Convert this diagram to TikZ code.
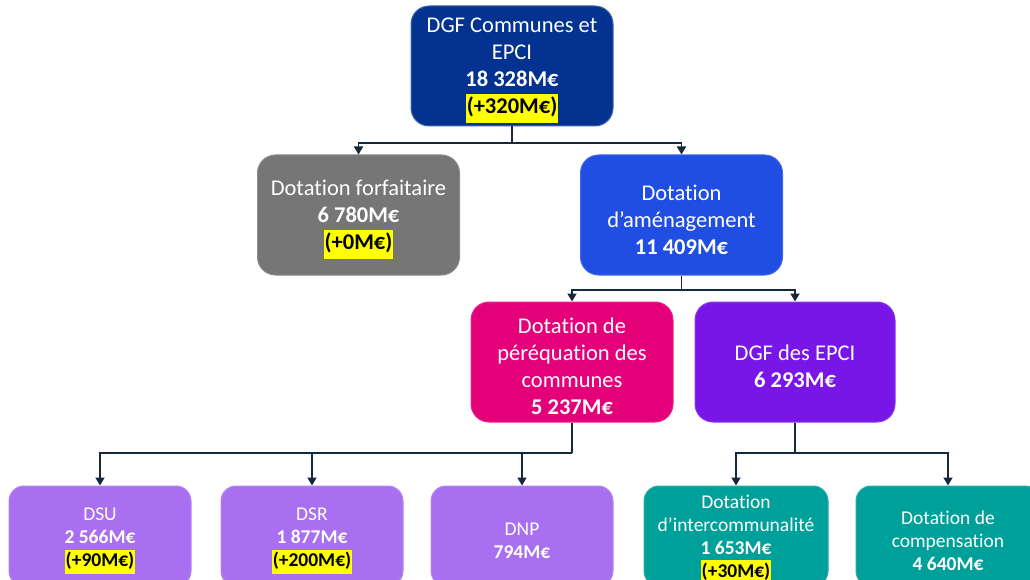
\documentclass[tikz,border=0pt]{standalone}
\usepackage{fontspec}
\setmainfont{Carlito}[Ligatures=NoCommon]
\usetikzlibrary{arrows.meta}
\definecolor{cTop}{RGB}{3,50,145}
\definecolor{cGray}{RGB}{118,118,118}
\definecolor{cBlue}{RGB}{33,78,226}
\definecolor{cPink}{RGB}{228,0,120}
\definecolor{cPurple}{RGB}{120,22,232}
\definecolor{cLav}{RGB}{168,112,240}
\definecolor{cTeal}{RGB}{0,160,154}
\definecolor{cLine}{RGB}{22,40,60}
\definecolor{hlYellow}{RGB}{255,255,0}
\newcommand\hlbox[1]{{\setlength{\fboxsep}{0.8pt}\colorbox{hlYellow}{\color{black}\strut #1}}}
\tikzset{
  bigbox/.style={rounded corners=18pt, minimum width=202pt, minimum height=120pt, inner sep=0pt, line width=1pt},
  smallbox/.style={rounded corners=15pt, minimum width=182pt, minimum height=100pt, inner sep=0pt, line width=1pt},
  bigtxt/.style={align=center, text=white, inner sep=0pt, font=\fontsize{22.5}{27}\selectfont},
  smalltxt/.style={align=center, text=white, inner sep=0pt, font=\fontsize{19.5}{23}\selectfont},
  conn/.style={draw=cLine, line width=1.8pt},
  arr/.style={conn, -{Triangle[width=9pt,length=8pt]}}
}
\begin{document}
\begin{tikzpicture}[x=1pt,y=-1pt]
\useasboundingbox (0,0) rectangle (1030,580);
% boxes
\node[bigbox, fill=cTop, draw=cTop!75!white] (top) at (512,66) {};
\node[bigbox, fill=cGray, draw=cGray!85!white] (forf) at (358.5,215) {};
\node[bigbox, fill=cBlue, draw=cBlue!85!white] (amen) at (681.5,215) {};
\node[bigbox, fill=cPink, draw=cPink!85!white] (pereq) at (572,362) {};
\node[bigbox, fill=cPurple, draw=cPurple!85!white, minimum width=200pt] (epci) at (795,362) {};
\node[smallbox, fill=cLav, draw=cLav!85!white] (dsu) at (100,536) {};
\node[smallbox, fill=cLav, draw=cLav!85!white] (dsr) at (312,536) {};
\node[smallbox, fill=cLav, draw=cLav!85!white] (dnp) at (522,536) {};
\node[smallbox, fill=cTeal, draw=cTeal!85!white, minimum width=184pt] (inter) at (736,536) {};
\node[smallbox, fill=cTeal, draw=cTeal!85!white, minimum width=184pt] (comp) at (948,536) {};
% texts
\node[bigtxt] (ttop) at ([yshift=-4.5pt]top.center)
  {DGF Communes et\\EPCI\\\textbf{18 328M€}\\\textbf{\hlbox{(+320M€)}}};
\node[bigtxt] (tforf) at ([yshift=-4.5pt]forf.center)
  {Dotation forfaitaire\\\textbf{6 780M€}\\\textbf{\hlbox{(+0M€)}}};
\node[bigtxt] (tamen) at ([yshift=-4.5pt]amen.center)
  {Dotation\\d’aménagement\\\textbf{11 409M€}};
\node[bigtxt] (tpereq) at ([yshift=-4.5pt]pereq.center)
  {Dotation de\\péréquation des\\communes\\\textbf{5 237M€}};
\node[bigtxt] (tepci) at ([yshift=-4.5pt]epci.center)
  {DGF des EPCI\\\textbf{6 293M€}};
\node[smalltxt] (tdsu) at ([yshift=-5pt]dsu.center)
  {DSU\\\textbf{2 566M€}\\\textbf{\hlbox{(+90M€)}}};
\node[smalltxt] (tdsr) at ([yshift=-5pt]dsr.center)
  {DSR\\\textbf{1 877M€}\\\textbf{\hlbox{(+200M€)}}};
\node[smalltxt] (tdnp) at ([yshift=-5pt]dnp.center)
  {DNP\\\textbf{794M€}};
\node[smalltxt] (tinter) at ([yshift=-4pt]inter.center)
  {Dotation\\d’intercommunalité\\\textbf{1 653M€}\\\textbf{\hlbox{(+30M€)}}};
\node[smalltxt] (tcomp) at ([yshift=-4.5pt]comp.center)
  {Dotation de\\compensation\\\textbf{4 640M€}};
% connectors
\coordinate (j1) at (512,143);
\coordinate (j2) at (681.5,290);
\coordinate (j3) at (572,453);
\coordinate (j4) at (795,453);
\draw[conn] (top.south) -- (j1);
\draw[arr] (j1) -| (forf.north);
\draw[arr] (j1) -| (amen.north);
\draw[conn] (amen.south) -- (j2);
\draw[arr] (j2) -| (pereq.north);
\draw[arr] (j2) -| (epci.north);
\draw[conn] (pereq.south) -- (j3);
\draw[arr] (j3) -| (dsu.north);
\draw[arr] (j3) -| (dsr.north);
\draw[arr] (j3) -| (dnp.north);
\draw[conn] (epci.south) -- (j4);
\draw[arr] (j4) -| (inter.north);
\draw[arr] (j4) -| (comp.north);
\end{tikzpicture}
\end{document}
